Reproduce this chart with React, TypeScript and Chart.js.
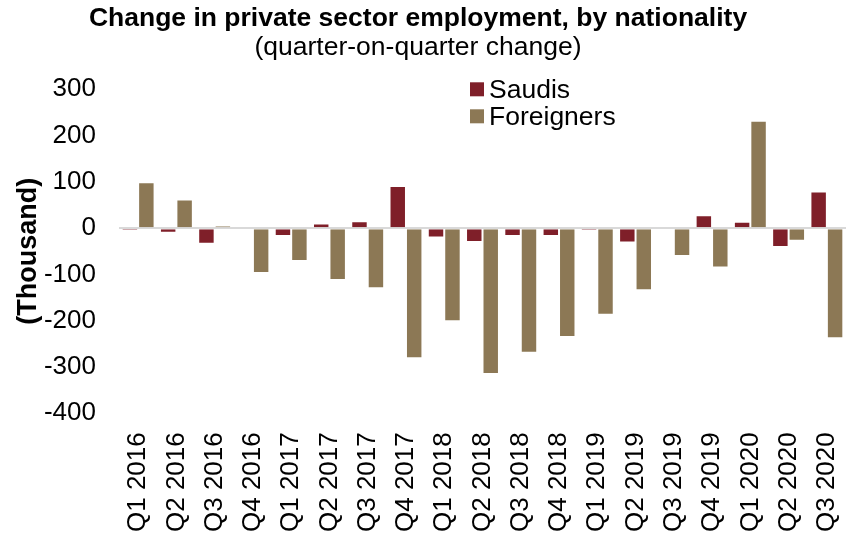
import React, { useEffect, useRef } from "react";
import { Chart, registerables } from "chart.js";

Chart.register(...registerables);

const categories = [
  "Q1 2016", "Q2 2016", "Q3 2016", "Q4 2016",
  "Q1 2017", "Q2 2017", "Q3 2017", "Q4 2017",
  "Q1 2018", "Q2 2018", "Q3 2018", "Q4 2018",
  "Q1 2019", "Q2 2019", "Q3 2019", "Q4 2019",
  "Q1 2020", "Q2 2020", "Q3 2020",
];

const saudis = [-5, -10, -34, 0, -17, 10, 15, 91, -20, -30, -17, -17, -5, -31, 0, 28, 14, -41, 79];
const foreigners = [99, 62, 5, -97, -71, -112, -130, -281, -201, -315, -269, -235, -187, -134, -60, -85, 232, -27, -238];

const yTicks = [300, 200, 100, 0, -100, -200, -300, -400];

const SAUDI_COLOR = "#7F1F29";
const FOREIGN_COLOR = "#8C7855";
const FONT = "'Liberation Sans', Arial, sans-serif";

export default function App() {
  const ref = useRef<HTMLCanvasElement | null>(null);

  useEffect(() => {
    if (!ref.current) return;
    const legendPlugin = {
      id: "customLegend",
      afterDraw(chart: any) {
        const { ctx, chartArea } = chart;
        const x = chartArea.left + 351;
        let y = chartArea.top - 7;
        ctx.save();
        chart.data.datasets.forEach((ds: any) => {
          ctx.fillStyle = ds.backgroundColor;
          ctx.fillRect(x, y, 14, 14);
          ctx.fillStyle = "#000";
          ctx.font = `26.5px ${FONT}`;
          ctx.textBaseline = "middle";
          ctx.textAlign = "left";
          ctx.fillText(ds.label, x + 19, y + 8);
          y += 27;
        });
        ctx.restore();
      },
    };

    const chart = new Chart(ref.current, {
      type: "bar",
      data: {
        labels: categories,
        datasets: [
          {
            label: "Saudis",
            data: saudis,
            backgroundColor: SAUDI_COLOR,
            borderColor: "rgba(255,255,255,0.5)",
            borderWidth: 1,
            categoryPercentage: 0.86,
            barPercentage: 1,
          },
          {
            label: "Foreigners",
            data: foreigners,
            backgroundColor: FOREIGN_COLOR,
            borderColor: "rgba(255,255,255,0.5)",
            borderWidth: 1,
            categoryPercentage: 0.86,
            barPercentage: 1,
          },
        ],
      },
      options: {
        animation: false,
        responsive: false,
        maintainAspectRatio: false,
        layout: { padding: { left: -10, right: 0, top: 0, bottom: 1 } },
        plugins: {
          legend: { display: false },
          tooltip: { enabled: false },
          title: {
            display: true,
            text: "Change in private sector employment, by nationality",
            color: "#000",
            font: { family: FONT, size: 26.5, weight: "bold", lineHeight: 1.1 },
            padding: { top: 4, bottom: 0 },
          },
          subtitle: {
            display: true,
            text: "(quarter-on-quarter change)",
            color: "#000",
            font: { family: FONT, size: 26.5, lineHeight: 1.1 },
            padding: { top: 0, bottom: 27 },
          },
        },
        scales: {
          x: {
            grid: { display: false, drawTicks: true, tickLength: 19 },
            border: { display: false },
            ticks: {
              autoSkip: false,
              maxRotation: 90,
              minRotation: 90,
              color: "#000",
              font: { family: FONT, size: 26 },
              padding: 0,
            },
            afterFit(scale: any) {
              scale.paddingLeft = 0;
              scale.paddingRight = 0;
            },
          },
          y: {
            min: -400,
            max: 300,
            afterBuildTicks(axis: any) {
              axis.ticks = yTicks.map((v) => ({ value: v }));
            },
            afterFit(scale: any) {
              scale.width = 129;
            },
            grid: {
              color: (c: any) => (c.tick && c.tick.value === 0 ? "#D9D9D9" : "rgba(0,0,0,0)"),
              lineWidth: 2,
              drawTicks: false,
            },
            border: { display: false },
            ticks: {
              color: "#000",
              font: { family: FONT, size: 26 },
              padding: 23,
            },
            title: {
              display: true,
              text: "(Thousand)",
              color: "#000",
              font: { family: FONT, size: 27, weight: "bold" },
              padding: { top: 22, bottom: 0 },
            },
          },
        },
      },
      plugins: [legendPlugin],
    });
    return () => chart.destroy();
  }, []);

  return (
    <div style={{ position: "fixed", left: 0, top: 0, width: 846, height: 533, background: "#fff" }}>
      <canvas ref={ref} width={846} height={533} style={{ width: 846, height: 533 }} />
    </div>
  );
}
